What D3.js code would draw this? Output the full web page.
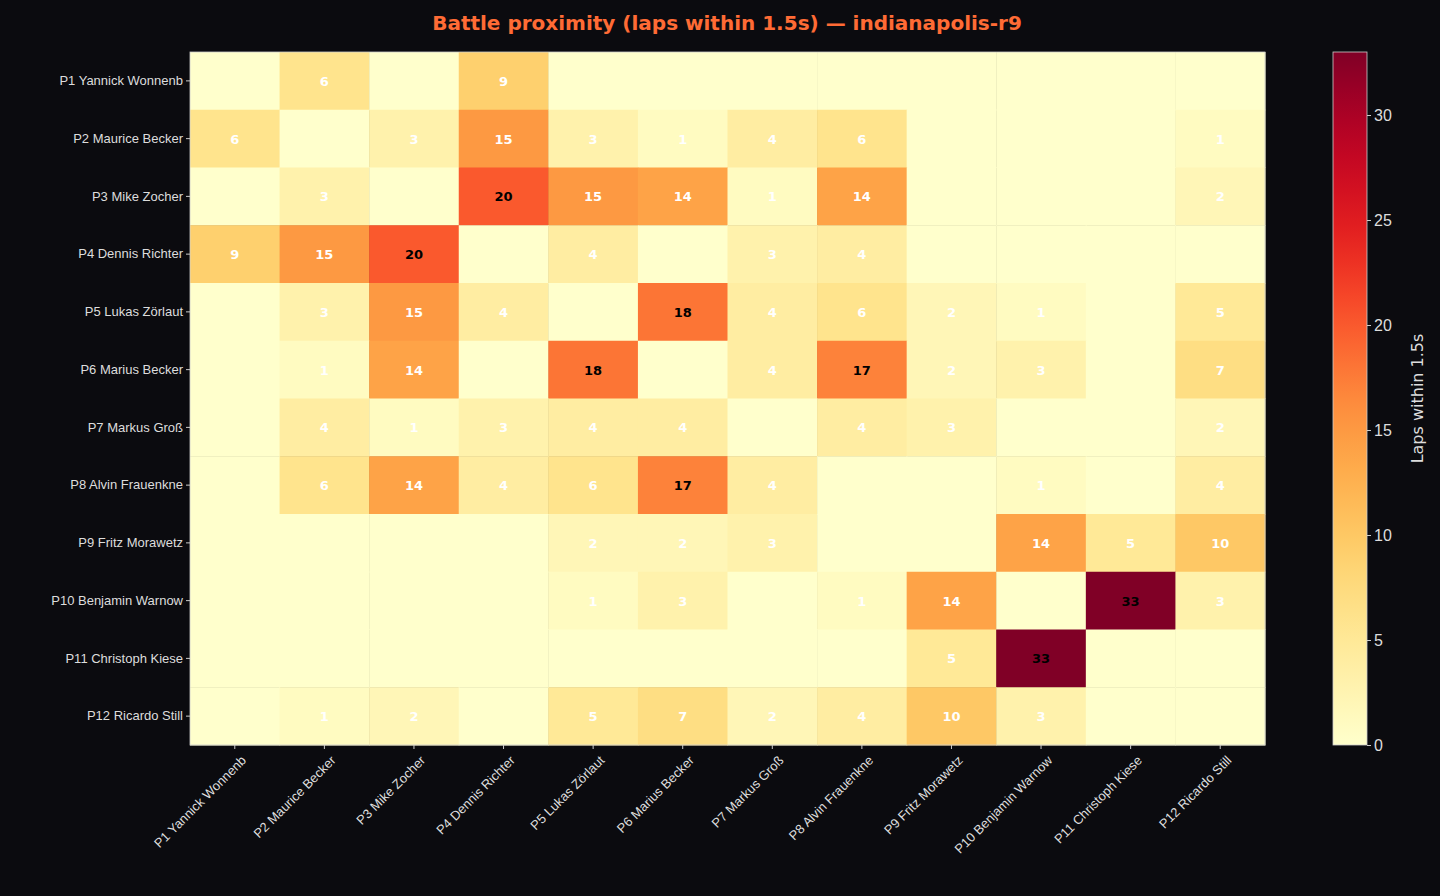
<!DOCTYPE html>
<html><head><meta charset="utf-8">
<script src="https://cdn.jsdelivr.net/npm/d3@7"></script>
<style>body{margin:0;background:#0b0b0f;}svg{display:block;font-family:"DejaVu Sans",sans-serif;}</style>
</head><body><svg id="c" width="1440" height="896"></svg>
<script>
const drivers=["P1 Yannick Wonnenb","P2 Maurice Becker","P3 Mike Zocher","P4 Dennis Richter","P5 Lukas Zörlaut","P6 Marius Becker","P7 Markus Groß","P8 Alvin Frauenkne","P9 Fritz Morawetz","P10 Benjamin Warnow","P11 Christoph Kiese","P12 Ricardo Still"];
const matrix=[
[0,6,0,9,0,0,0,0,0,0,0,0],
[6,0,3,15,3,1,4,6,0,0,0,1],
[0,3,0,20,15,14,1,14,0,0,0,2],
[9,15,20,0,4,0,3,4,0,0,0,0],
[0,3,15,4,0,18,4,6,2,1,0,5],
[0,1,14,0,18,0,4,17,2,3,0,7],
[0,4,1,3,4,4,0,4,3,0,0,2],
[0,6,14,4,6,17,4,0,0,1,0,4],
[0,0,0,0,2,2,3,0,0,14,5,10],
[0,0,0,0,1,3,0,1,14,0,33,3],
[0,0,0,0,0,0,0,0,5,33,0,0],
[0,1,2,0,5,7,2,4,10,3,0,0]];
const cbTicks=[0,5,10,15,20,25,30];
const vmax=33;
const svg=d3.select("#c");
const L=190,R=1265,T=52,B=745;
const x=d3.scaleBand().domain(drivers).range([L,R]);
const y=d3.scaleBand().domain(drivers).range([T,B]);
const color=v=>d3.interpolateYlOrRd(v/vmax);
svg.append("text").attr("x",727).attr("y",30).attr("text-anchor","middle").attr("fill","#ff6b35").attr("font-size",20).attr("font-weight","bold").text("Battle proximity (laps within 1.5s) — indianapolis-r9");
const cells=[];
matrix.forEach((r,i)=>r.forEach((v,j)=>cells.push({i,j,v})));
svg.selectAll("rect.c").data(cells).join("rect").attr("x",d=>x(drivers[d.j])).attr("y",d=>y(drivers[d.i])).attr("width",x.bandwidth()+0.5).attr("height",y.bandwidth()+0.5).attr("fill",d=>color(d.v));
svg.selectAll("text.v").data(cells.filter(d=>d.v>0)).join("text").attr("x",d=>x(drivers[d.j])+x.bandwidth()/2).attr("y",d=>y(drivers[d.i])+y.bandwidth()/2+5).attr("text-anchor","middle").attr("font-size",13).attr("font-weight","bold").attr("fill",d=>d.v>16?"#000":"#fff").text(d=>d.v);
svg.append("rect").attr("x",L).attr("y",T).attr("width",R-L).attr("height",B-T).attr("fill","none").attr("stroke","#ccc").attr("stroke-width",0.8);
const ya=svg.append("g").attr("transform",`translate(${L},0)`).call(d3.axisLeft(y).tickSize(4));
const xa=svg.append("g").attr("transform",`translate(0,${B})`).call(d3.axisBottom(x).tickSize(4));
[ya,xa].forEach(a=>{a.select(".domain").remove();a.selectAll("line").attr("stroke","#ccc");a.selectAll("text").attr("fill","#ddd").attr("font-size",13);});
xa.selectAll("text").attr("text-anchor","end").attr("transform","translate(4,8) rotate(-45)").attr("dy","0.35em");
// colorbar
const cx=1333,cw=34;
const cy=d3.scaleLinear().domain([0,vmax]).range([B,T]);
const defs=svg.append("defs");const g=defs.append("linearGradient").attr("id","g").attr("x1",0).attr("y1",1).attr("x2",0).attr("y2",0);
d3.range(0,1.001,0.05).forEach(t=>g.append("stop").attr("offset",t).attr("stop-color",d3.interpolateYlOrRd(t)));
svg.append("rect").attr("x",cx).attr("y",T).attr("width",cw).attr("height",B-T).attr("fill","url(#g)").attr("stroke","#ccc").attr("stroke-width",0.8);
const ca=svg.append("g").attr("transform",`translate(${cx+cw},0)`).call(d3.axisRight(cy).tickValues(cbTicks).tickSize(4));
ca.select(".domain").remove();ca.selectAll("line").attr("stroke","#ccc");ca.selectAll("text").attr("fill","#ddd").attr("font-size",16);
svg.append("text").attr("transform",`translate(1423,${(T+B)/2}) rotate(-90)`).attr("text-anchor","middle").attr("fill","#ddd").attr("font-size",16).text("Laps within 1.5s");
</script></body></html>
